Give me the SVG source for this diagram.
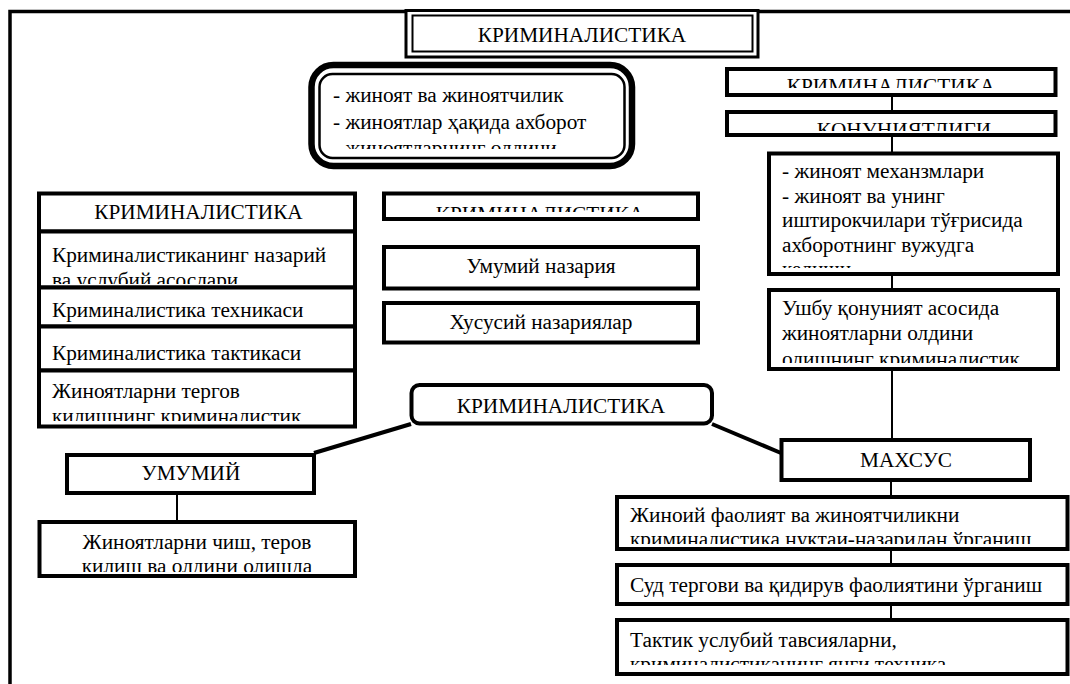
<svg xmlns="http://www.w3.org/2000/svg" width="1070" height="684" viewBox="0 0 1070 684">
<style>
.b{fill:#fff;stroke:#000;stroke-width:4}
.t{font-family:"Liberation Serif","Times New Roman",serif;font-size:21.3px;fill:#000}
.h{font-family:"Liberation Serif","Times New Roman",serif;font-size:21.3px;fill:#000}
.c{text-anchor:middle}
.ln{stroke:#000;stroke-width:2;fill:none}
.lt{stroke:#000;stroke-width:4;fill:none}
</style>
<defs>
<clipPath id="cTop"><rect x="320" y="75" width="300" height="74"/></clipPath>
<clipPath id="cR1"><rect x="729" y="71" width="324" height="17"/></clipPath>
<clipPath id="cR2"><rect x="729" y="114" width="324" height="17"/></clipPath>
<clipPath id="cR3"><rect x="771" y="155" width="285" height="113"/></clipPath>
<clipPath id="cR4"><rect x="771" y="292" width="285" height="71"/></clipPath>
<clipPath id="cB1"><rect x="619" y="499" width="446" height="45"/></clipPath>
<clipPath id="cB3"><rect x="619" y="622" width="446" height="43"/></clipPath>
<clipPath id="cL2"><rect x="41" y="234" width="312" height="50"/></clipPath>
<clipPath id="cL5"><rect x="41" y="373" width="312" height="48"/></clipPath>
<clipPath id="cM1"><rect x="386" y="196" width="310" height="16"/></clipPath>
<clipPath id="cU2"><rect x="41" y="524" width="312" height="48"/></clipPath>
</defs>
<rect x="0" y="0" width="1070" height="684" fill="#fff"/>
<path d="M10,684 V11.5 H1070" fill="none" stroke="#000" stroke-width="3.5"/>

<g id="connectors">
<line class="ln" x1="892" y1="95" x2="892" y2="112"/>
<line class="ln" x1="892" y1="135" x2="892" y2="153"/>
<line class="ln" x1="892" y1="274" x2="892" y2="290"/>
<line class="ln" x1="892" y1="369" x2="892" y2="440"/>
<line class="ln" x1="891" y1="480" x2="891" y2="497"/>
<line class="ln" x1="891" y1="549" x2="891" y2="565"/>
<line class="ln" x1="891" y1="604" x2="891" y2="620" stroke-width="3"/>
<line class="ln" x1="177" y1="217" x2="177" y2="231"/>
<line class="ln" x1="177" y1="493" x2="177" y2="522"/>
<line class="lt" x1="411" y1="424" x2="314" y2="453"/>
<line class="lt" x1="712" y1="424" x2="781" y2="453" stroke-width="3.5"/>
</g>

<g id="title">
<rect x="406" y="10.5" width="352" height="46.5" fill="#fff" stroke="#000" stroke-width="3"/>
<rect x="412.5" y="15.5" width="340" height="36" fill="none" stroke="#000" stroke-width="2"/>
<text class="h c" x="582" y="42">КРИМИНАЛИСТИКА</text>
</g>

<g id="top-box">
<rect x="311.5" y="65" width="320.5" height="101" rx="22" fill="#fff" stroke="#000" stroke-width="6.5"/>
<rect x="319.5" y="74" width="305" height="84" rx="13" fill="none" stroke="#000" stroke-width="2.5"/>
<g clip-path="url(#cTop)">
<text class="t" x="333" y="102">- жиноят ва жиноятчилик</text>
<text class="t" x="333" y="129">- жиноятлар ҳақида ахборот</text>
<text class="t" x="333" y="155">- жиноятларнинг олдини</text>
</g>
</g>

<g id="r1">
<rect class="b" x="727" y="69" width="328.5" height="26"/>
<text class="h c" x="891" y="93" clip-path="url(#cR1)">КРИМИНАЛИСТИКА</text>
</g>
<g id="r2">
<rect class="b" x="727" y="112" width="328.5" height="23"/>
<text class="h c" x="904" y="137" clip-path="url(#cR2)">ҚОНУНИЯТЛИГИ</text>
</g>
<g id="r3">
<rect class="b" x="769" y="153.5" width="289" height="120.5"/>
<g clip-path="url(#cR3)">
<text class="t" x="782" y="178">- жиноят механзмлари</text>
<text class="t" x="782" y="202.5">- жиноят ва унинг</text>
<text class="t" x="782" y="227">иштирокчилари тўғрисида</text>
<text class="t" x="782" y="251.5">ахборотнинг вужудга</text>
<text class="t" x="782" y="276">келиши</text>
</g>
</g>
<g id="r4">
<rect class="b" x="769" y="290" width="289" height="79"/>
<g clip-path="url(#cR4)">
<text class="t" x="782" y="315">Ушбу қонуният асосида</text>
<text class="t" x="782" y="339.5">жиноятларни олдини</text>
<text class="t" x="782" y="366">олишнинг криминалистик</text>
</g>
</g>

<g id="l1">
<rect class="b" x="39" y="193.5" width="316" height="38"/>
<text class="h c" x="198.5" y="219">КРИМИНАЛИСТИКА</text>
</g>
<g id="l2">
<rect class="b" x="39" y="231.5" width="316" height="56"/>
<g clip-path="url(#cL2)">
<text class="t" x="52" y="262">Криминалистиканинг назарий</text>
<text class="t" x="52" y="287">ва услубий асослари</text>
</g>
</g>
<g id="l3">
<rect class="b" x="39" y="287.5" width="316" height="39"/>
<text class="t" x="52" y="317">Криминалистика техникаси</text>
</g>
<g id="l4">
<rect class="b" x="39" y="326.5" width="316" height="44"/>
<text class="t" x="52" y="360">Криминалистика тактикаси</text>
</g>
<g id="l5">
<rect class="b" x="39" y="370.5" width="316" height="56"/>
<g clip-path="url(#cL5)">
<text class="t" x="52" y="398">Жиноятларни тергов</text>
<text class="t" x="52" y="423">қилишнинг криминалистик</text>
</g>
</g>

<g id="m1">
<rect class="b" x="384" y="193.5" width="314" height="25.5"/>
<text class="h c" x="540" y="221" clip-path="url(#cM1)">КРИМИНАЛИСТИКА</text>
</g>
<g id="m2">
<rect class="b" x="384" y="247" width="314" height="41.5"/>
<text class="t c" x="541" y="273">Умумий назария</text>
</g>
<g id="m3">
<rect class="b" x="384" y="303" width="314" height="39.5"/>
<text class="t c" x="541" y="329">Хусусий назариялар</text>
</g>

<g id="center">
<rect class="b" x="411.5" y="385" width="300.5" height="38.5" rx="8"/>
<text class="h c" x="561" y="413">КРИМИНАЛИСТИКА</text>
</g>

<g id="umumiy">
<rect class="b" x="67" y="455" width="247" height="38"/>
<text class="h c" x="191" y="480">УМУМИЙ</text>
</g>
<g id="umumiy-desc">
<rect class="b" x="39.5" y="522" width="315.5" height="54"/>
<g clip-path="url(#cU2)">
<text class="t c" x="197" y="549">Жиноятларни чиш, теров</text>
<text class="t c" x="197" y="573">қилиш ва олдини олишда</text>
</g>
</g>

<g id="maxsus">
<rect class="b" x="781.5" y="440" width="248.5" height="40"/>
<text class="h c" x="906" y="467">МАХСУС</text>
</g>
<g id="b1">
<rect class="b" x="617" y="497" width="450.5" height="52"/>
<g clip-path="url(#cB1)">
<text class="t" x="630" y="522">Жиноий фаолият ва жиноятчиликни</text>
<text class="t" x="630" y="546">криминалистика нуктаи-назаридан ўрганиш</text>
</g>
</g>
<g id="b2">
<rect class="b" x="617" y="565" width="450.5" height="39"/>
<text class="t" x="630" y="592">Суд тергови ва қидирув фаолиятини ўрганиш</text>
</g>
<g id="b3">
<rect class="b" x="617" y="620" width="450.5" height="54"/>
<g clip-path="url(#cB3)">
<text class="t" x="630" y="647">Тактик услубий тавсияларни,</text>
<text class="t" x="630" y="671">криминалистиканинг янги техника</text>
</g>
</g>
</svg>
